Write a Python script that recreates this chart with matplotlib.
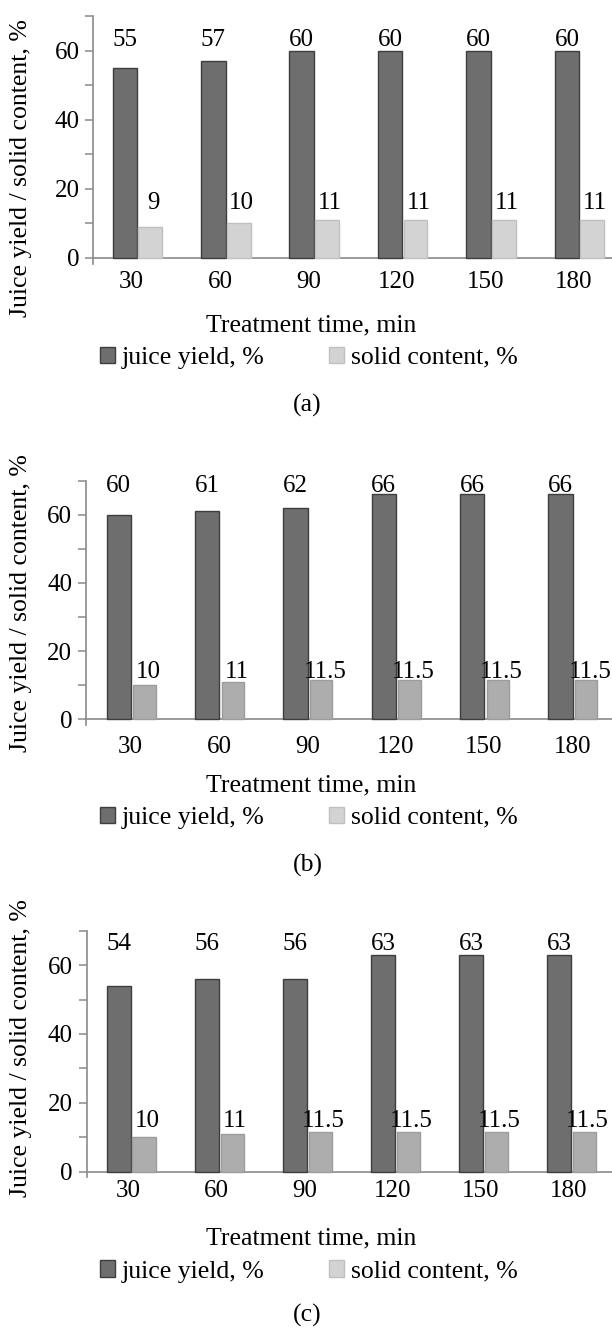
import matplotlib
matplotlib.use("Agg")
import matplotlib.pyplot as plt
from matplotlib.patches import Patch
import numpy as np

# ---------------- data ----------------
times = ["30", "60", "90", "120", "150", "180"]
juice_a = [55, 57, 60, 60, 60, 60]
solid_a = [9, 10, 11, 11, 11, 11]
juice_b = [60, 61, 62, 66, 66, 66]
solid_b = [10, 11, 11.5, 11.5, 11.5, 11.5]
juice_c = [54, 56, 56, 63, 63, 63]
solid_c = [10, 11, 11.5, 11.5, 11.5, 11.5]
panel_tags = ["(a)", "(b)", "(c)"]
series_names = ["juice yield, %", "solid content, %"]

# ---------------- style ----------------
W, H = 612, 1328
DPI = 100
FONT = "Liberation Serif"
plt.rcParams["font.family"] = [FONT, "DejaVu Serif"]
AX_COL = "#8a8a8a"
DARK, DARK_E = "#6e6e6e", "#3e3e3e"
LIGHT_A, LIGHT_A_E = "#d3d3d3", "#c0c0c0"
LIGHT_BC, LIGHT_BC_E = "#adadad", "#9c9c9c"
FS = 18

fig = plt.figure(figsize=(W / DPI, H / DPI), dpi=DPI)
fig.patch.set_facecolor("white")


def fx(px):
    return px / W


def fy(py):
    return 1 - py / H


panels = [
    dict(juice=juice_a, solid=solid_a, left=93.3, ytop=16.0, yzero=258.0,
         xlim=(-0.434, 5.433), doff=-0.215, dw=0.278, loff=0.075, lw=0.27,
         light=LIGHT_A, light_e=LIGHT_A_E, jlab=61.2, slab=14.1,
         slab_dx=3, xpad=9.6, xlab_base=331.7, leg_y=354.7, tag_base=412.0,
         ylab_y=168.0),
    dict(juice=juice_b, solid=solid_b, left=86.0, ytop=480.7, yzero=719.3,
         xlim=(-0.506, 5.45), doff=-0.272, dw=0.275, loff=0.029, lw=0.255,
         light=LIGHT_BC, light_e=LIGHT_BC_E, jlab=66.8, slab=12.0,
         slab_dx=4, xpad=12.0, xlab_base=791.7, leg_y=814.7, tag_base=872.0,
         ylab_y=602.6),
    dict(juice=juice_c, solid=solid_c, left=86.7, ytop=930.7, yzero=1171.7,
         xlim=(-0.473, 5.49), doff=-0.246, dw=0.272, loff=0.046, lw=0.267,
         light=LIGHT_BC, light_e=LIGHT_BC_E, jlab=64.4, slab=13.0,
         slab_dx=3, xpad=6.0, xlab_base=1244.0, leg_y=1268.5, tag_base=1321.5,
         ylab_y=1048.0),
]

YMIN, YMAX = -1.6, 70
x = np.arange(len(times))

for k, p in enumerate(panels):
    unit = (p["yzero"] - p["ytop"]) / YMAX
    ybot = p["yzero"] - YMIN * unit
    ax = fig.add_axes([fx(p["left"]), fy(ybot), fx(W - p["left"]),
                       (ybot - p["ytop"]) / H])
    ax.set_xlim(*p["xlim"])
    ax.set_ylim(YMIN, YMAX)

    ax.bar(x + p["doff"], p["juice"], width=p["dw"], align="edge",
           color=DARK, edgecolor=DARK_E, linewidth=1.0, zorder=3)
    ax.bar(x + p["loff"], p["solid"], width=p["lw"], align="edge",
           color=p["light"], edgecolor=p["light_e"], linewidth=1.0, zorder=3)

    for i in range(len(times)):
        ax.text(x[i] + p["doff"] + p["dw"] / 2, p["jlab"], f"{p['juice'][i]:g}",
                ha="center", va="baseline", fontsize=FS, zorder=5)
        ax.annotate(f"{p['solid'][i]:g}",
                    xy=(x[i] + p["loff"] + p["lw"] / 2, p["slab"]),
                    xytext=(p["slab_dx"] * 72 / DPI, 0), textcoords="offset points",
                    ha="center", va="baseline", fontsize=FS, zorder=5,
                    annotation_clip=False)

    # spines
    for s in ["top", "right"]:
        ax.spines[s].set_visible(False)
    ax.spines["bottom"].set_position(("data", 0))
    for s in ["left", "bottom"]:
        ax.spines[s].set_color(AX_COL)
        ax.spines[s].set_linewidth(1.2)

    ax.set_yticks([0, 20, 40, 60])
    ax.set_yticks([10, 30, 50, 70], minor=True)
    ax.tick_params(axis="y", which="both", direction="out", length=5.5,
                   width=1.1, color=AX_COL, labelsize=FS, pad=4.5)
    ax.set_xticks(x)
    ax.set_xticklabels(times)
    ax.tick_params(axis="x", which="both", length=0, labelsize=FS, pad=p["xpad"])
    ax.set_facecolor("none")

    # axis titles and tag
    fig.text(fx(310.8), fy(p["xlab_base"]), "Treatment time, min", ha="center",
             va="baseline", fontsize=FS + 0.5)
    fig.text(fx(21), fy(p["ylab_y"]), "Juice yield / solid content, %", rotation=90,
             ha="center", va="center", fontsize=FS + 0.5)
    fig.text(fx(307.5), fy(p["tag_base"]), panel_tags[k], ha="center",
             va="baseline", fontsize=FS + 0.5)

    handles = [Patch(facecolor=DARK, edgecolor=DARK_E, linewidth=1.0),
               Patch(facecolor=LIGHT_A, edgecolor=LIGHT_A_E, linewidth=1.0)]
    fig.legend(handles, series_names, loc="center left",
               bbox_to_anchor=(fx(100), fy(p["leg_y"] + 3)), ncol=2, frameon=False,
               fontsize=FS + 0.5, handlelength=0.6, handleheight=0.6,
               handletextpad=0.25, columnspacing=2.5, borderpad=0, borderaxespad=0)

fig.savefig("out.png", dpi=DPI, facecolor="white")
